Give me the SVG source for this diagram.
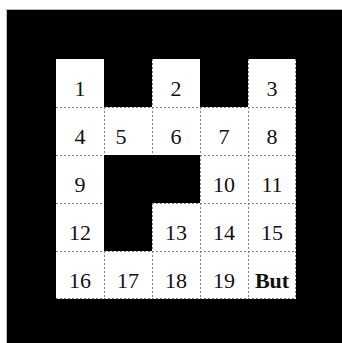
<svg xmlns="http://www.w3.org/2000/svg" width="342" height="343" viewBox="0 0 342 343">
<style>
.bg{fill:#000000}
.cell{fill:#ffffff}
.wall{fill:#000000}
.grid line{stroke:#808080;stroke-width:1;stroke-dasharray:2 2}
.t{font-family:"Liberation Serif","Times New Roman",serif;font-size:22px;fill:#111111;text-anchor:middle}
.b{font-weight:bold}
</style>
<rect x="0" y="0" width="342" height="343" fill="#ffffff"/>
<rect class="bg" x="7" y="10" width="335" height="333"/>
<rect x="6.5" y="9.5" width="340" height="340" fill="none" stroke="#bbbbbb" stroke-width="1"/>
<rect class="cell" x="56" y="59" width="240" height="240"/>
<g class="grid" id="grid">
<line x1="104.5" y1="59" x2="104.5" y2="299"/>
<line x1="152.5" y1="59" x2="152.5" y2="299"/>
<line x1="200.5" y1="59" x2="200.5" y2="299"/>
<line x1="248.5" y1="59" x2="248.5" y2="299"/>
<line x1="295.5" y1="59" x2="295.5" y2="299"/>
<line x1="56" y1="107.5" x2="296" y2="107.5"/>
<line x1="56" y1="155.5" x2="296" y2="155.5"/>
<line x1="56" y1="203.5" x2="296" y2="203.5"/>
<line x1="56" y1="251.5" x2="296" y2="251.5"/>
<line x1="56" y1="298.5" x2="296" y2="298.5"/>
</g>
<g id="walls">
<rect class="wall" x="104" y="59" width="48" height="48"/>
<rect class="wall" x="200" y="59" width="48" height="48"/>
<rect class="wall" x="104" y="155" width="96" height="48"/>
<rect class="wall" x="104" y="203" width="48" height="48"/>
</g>
<g id="n1"><text class="t" x="80" y="95.5">1</text></g>
<g id="n2"><text class="t" x="176" y="95.5">2</text></g>
<g id="n3"><text class="t" x="272" y="95.5">3</text></g>
<g id="n4"><text class="t" x="80" y="143.5">4</text></g>
<g id="n5"><text class="t" x="121" y="143.5">5</text></g>
<g id="n6"><text class="t" x="176" y="143.5">6</text></g>
<g id="n7"><text class="t" x="224" y="143.5">7</text></g>
<g id="n8"><text class="t" x="272" y="143.5">8</text></g>
<g id="n9"><text class="t" x="80" y="191.5">9</text></g>
<g id="n10"><text class="t" x="224" y="191.5">10</text></g>
<g id="n11"><text class="t" x="272" y="191.5">11</text></g>
<g id="n12"><text class="t" x="80" y="239.5">12</text></g>
<g id="n13"><text class="t" x="176" y="239.5">13</text></g>
<g id="n14"><text class="t" x="224" y="239.5">14</text></g>
<g id="n15"><text class="t" x="272" y="239.5">15</text></g>
<g id="n16"><text class="t" x="80" y="287.5">16</text></g>
<g id="n17"><text class="t" x="128" y="287.5">17</text></g>
<g id="n18"><text class="t" x="176" y="287.5">18</text></g>
<g id="n19"><text class="t" x="224" y="287.5">19</text></g>
<g id="nBut"><text class="t b" x="272" y="287.5">But</text></g>
</svg>
